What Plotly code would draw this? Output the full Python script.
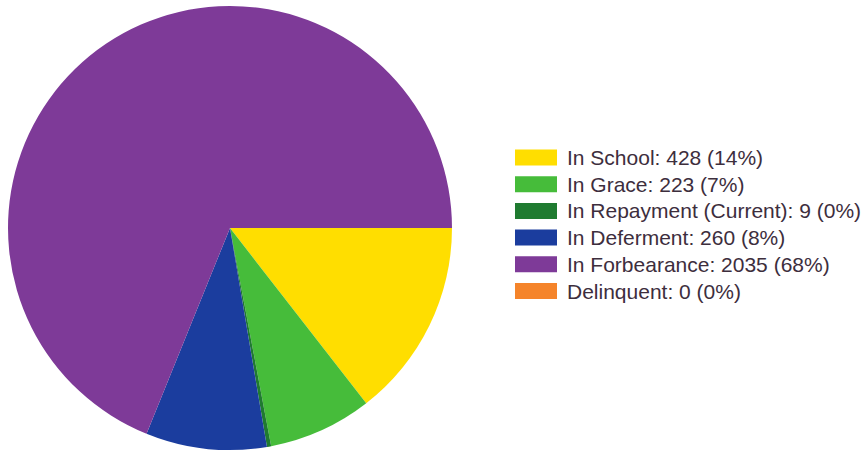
import math
import plotly.graph_objects as go

labels = ["In School", "In Grace", "In Repayment (Current)", "In Deferment", "In Forbearance", "Delinquent"]
values = [428, 223, 9, 260, 2035, 0]
colors = ["#FFDE00", "#46BC3A", "#1F7B30", "#1B3D9E", "#7E3A98", "#F5842A"]

W, H = 867, 453
total = sum(values)
legend_texts = [f"{l}: {v} ({math.floor(v * 100 / total)}%)" for l, v in zip(labels, values)]

fig = go.Figure(go.Pie(
    labels=labels,
    values=values,
    sort=False,
    direction="clockwise",
    rotation=90,
    marker=dict(colors=colors, line=dict(width=0)),
    textinfo="none",
    hoverinfo="label+value+percent",
    showlegend=False,
    domain=dict(x=[8 / W, 452 / W], y=[(H - 450) / H, (H - 6) / H]),
))

shapes = []
annotations = []
row0, step = 157.5, 26.7
for i, (txt, c) in enumerate(zip(legend_texts, colors)):
    yc = row0 + i * step
    shapes.append(dict(type="rect", xref="paper", yref="paper",
                       x0=515 / W, x1=557 / W,
                       y0=(H - (yc + 8)) / H, y1=(H - (yc - 8)) / H,
                       fillcolor=c, line=dict(width=0)))
    annotations.append(dict(text=txt, xref="paper", yref="paper",
                            x=565 / W, y=(H - yc) / H, xanchor="left", yanchor="middle",
                            showarrow=False,
                            font=dict(family="Liberation Sans, Arial", size=21, color="#3d2e3d")))

fig.update_layout(
    width=W, height=H,
    margin=dict(l=0, r=0, t=0, b=0),
    paper_bgcolor="white", plot_bgcolor="white",
    shapes=shapes, annotations=annotations,
)

fig.write_html("out.html")
